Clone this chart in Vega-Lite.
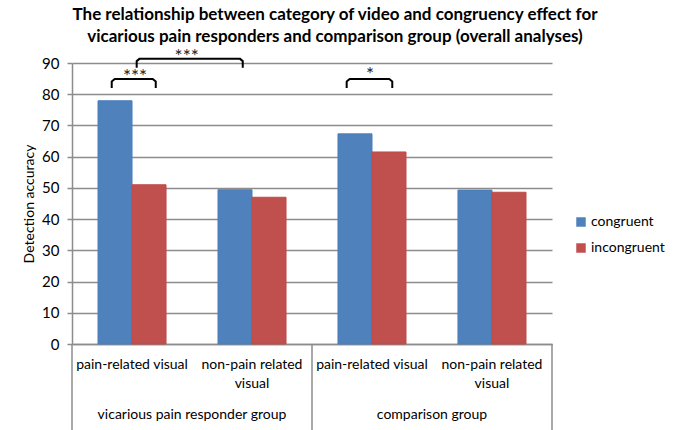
{
  "$schema": "https://vega.github.io/schema/vega-lite/v6.json",
  "autosize": "none",
  "padding": {"left": 72, "top": 63, "right": 128, "bottom": 86},
  "width": 480,
  "height": 281,
  "background": "white",
  "title": {
    "text": ["The relationship between category of video and congruency effect for", "vicarious pain responders and comparison group (overall analyses)"],
    "font": "Lato",
    "fontSize": 17,
    "fontWeight": "bold",
    "color": "black",
    "lineHeight": 22,
    "anchor": "middle",
    "frame": "group",
    "dx": 23,
    "offset": 2
  },
  "config": {
    "view": {"stroke": null},
    "font": "Lato",
    "axis": {"labelFont": "Lato", "titleFont": "Lato", "labelColor": "black", "titleColor": "black"}
  },
  "datasets": {
    "bars": [
      {"cell": "vicarious / pain-related visual", "condition": "congruent", "value": 77.9},
      {"cell": "vicarious / pain-related visual", "condition": "incongruent", "value": 51.0},
      {"cell": "vicarious / non-pain related visual", "condition": "congruent", "value": 49.4},
      {"cell": "vicarious / non-pain related visual", "condition": "incongruent", "value": 47.0},
      {"cell": "comparison / pain-related visual", "condition": "congruent", "value": 67.3},
      {"cell": "comparison / pain-related visual", "condition": "incongruent", "value": 61.5},
      {"cell": "comparison / non-pain related visual", "condition": "congruent", "value": 49.3},
      {"cell": "comparison / non-pain related visual", "condition": "incongruent", "value": 48.6}
    ],
    "separators": [
      {"pos": 0, "value": 0, "bottom": -28},
      {"pos": 2, "value": 0, "bottom": -28},
      {"pos": 4, "value": 0, "bottom": -28}
    ],
    "groups": [
      {"pos": 1, "value": -22.7, "label": "vicarious pain responder group"},
      {"pos": 3, "value": -22.7, "label": "comparison group"}
    ],
    "brackets": [
      {"bracket": "a", "i": 1, "x": 0.331, "value": 82.0},
      {"bracket": "a", "i": 2, "x": 0.331, "value": 84.1},
      {"bracket": "a", "i": 3, "x": 0.356, "value": 84.9},
      {"bracket": "a", "i": 4, "x": 0.673, "value": 84.9},
      {"bracket": "a", "i": 5, "x": 0.698, "value": 84.1},
      {"bracket": "a", "i": 6, "x": 0.698, "value": 82.0},
      {"bracket": "b", "i": 1, "x": 0.539, "value": 88.5},
      {"bracket": "b", "i": 2, "x": 0.539, "value": 90.6},
      {"bracket": "b", "i": 3, "x": 0.564, "value": 91.4},
      {"bracket": "b", "i": 4, "x": 1.398, "value": 91.4},
      {"bracket": "b", "i": 5, "x": 1.423, "value": 90.6},
      {"bracket": "b", "i": 6, "x": 1.423, "value": 88.5},
      {"bracket": "c", "i": 1, "x": 2.289, "value": 82.0},
      {"bracket": "c", "i": 2, "x": 2.289, "value": 84.1},
      {"bracket": "c", "i": 3, "x": 2.314, "value": 84.9},
      {"bracket": "c", "i": 4, "x": 2.644, "value": 84.9},
      {"bracket": "c", "i": 5, "x": 2.669, "value": 84.1},
      {"bracket": "c", "i": 6, "x": 2.669, "value": 82.0}
    ],
    "stars": [
      {"x": 0.525, "value": 85.6, "label": "***"},
      {"x": 0.956, "value": 91.9, "label": "***"},
      {"x": 2.483, "value": 86.3, "label": "*"}
    ]
  },
  "encoding": {
    "y": {
      "field": "value",
      "type": "quantitative",
      "title": "Detection accuracy",
      "scale": {"domain": [0, 90], "nice": false},
      "axis": {
        "values": [0, 10, 20, 30, 40, 50, 60, 70, 80, 90],
        "labelFontSize": 15,
        "labelPadding": 8,
        "labelOverlap": false,
        "labelBound": false,
        "tickSize": 5,
        "tickColor": "#8c8c8c",
        "tickWidth": 1.5,
        "domainColor": "#8c8c8c",
        "domainWidth": 1.5,
        "gridColor": "#8c8c8c",
        "gridWidth": 1.5,
        "titleFontSize": 14,
        "titleFontWeight": "normal",
        "titlePadding": 5
      }
    }
  },
  "layer": [
    {
      "data": {"name": "bars"},
      "mark": {"type": "bar", "strokeWidth": 1},
      "encoding": {
        "x": {
          "field": "cell",
          "type": "nominal",
          "sort": null,
          "scale": {"paddingInner": 0.433, "paddingOuter": 0.2167},
          "axis": {
            "title": null,
            "ticks": false,
            "labelAngle": 0,
            "labelFontSize": 14,
            "labelPadding": 13,
            "labelLineHeight": 19,
            "labelExpr": "indexof(datum.value, 'non-pain') >= 0 ? ['non-pain related', 'visual'] : 'pain-related visual'",
            "domainColor": "#8c8c8c",
            "domainWidth": 1.5,
            "grid": false
          }
        },
        "xOffset": {"field": "condition", "type": "nominal"},
        "color": {
          "field": "condition",
          "type": "nominal",
          "scale": {"domain": ["congruent", "incongruent"], "range": ["#4F81BD", "#C0504D"]},
          "legend": {
            "title": null,
            "orient": "none",
            "legendX": 502,
            "legendY": 152,
            "symbolType": "square",
            "symbolSize": 90,
            "symbolStrokeWidth": 0,
            "labelFontSize": 14,
            "labelOffset": 3,
            "rowPadding": 12
          }
        },
        "stroke": {
          "field": "condition",
          "type": "nominal",
          "scale": {"domain": ["congruent", "incongruent"], "range": ["#4A7EBB", "#BE4B48"]},
          "legend": null
        }
      }
    },
    {
      "data": {"name": "separators"},
      "mark": {"type": "rule", "color": "#8c8c8c", "strokeWidth": 1.5},
      "encoding": {
        "x": {"field": "pos", "type": "quantitative", "scale": {"domain": [0, 4]}, "axis": null},
        "y2": {"field": "bottom"}
      }
    },
    {
      "data": {"name": "groups"},
      "mark": {"type": "text", "fontSize": 14, "baseline": "middle", "align": "center", "color": "black"},
      "encoding": {
        "x": {"field": "pos", "type": "quantitative", "scale": {"domain": [0, 4]}, "axis": null},
        "text": {"field": "label"}
      }
    },
    {
      "data": {"name": "brackets"},
      "mark": {"type": "line", "color": "black", "strokeWidth": 2, "strokeJoin": "round"},
      "encoding": {
        "x": {"field": "x", "type": "quantitative", "scale": {"domain": [0, 4]}, "axis": null},
        "detail": {"field": "bracket"},
        "order": {"field": "i"}
      }
    },
    {
      "data": {"name": "stars"},
      "mark": {"type": "text", "fontSize": 19, "baseline": "middle", "align": "center", "color": "#222222"},
      "encoding": {
        "x": {"field": "x", "type": "quantitative", "scale": {"domain": [0, 4]}, "axis": null},
        "text": {"field": "label"}
      }
    }
  ],
  "resolve": {"scale": {"x": "independent"}}
}
